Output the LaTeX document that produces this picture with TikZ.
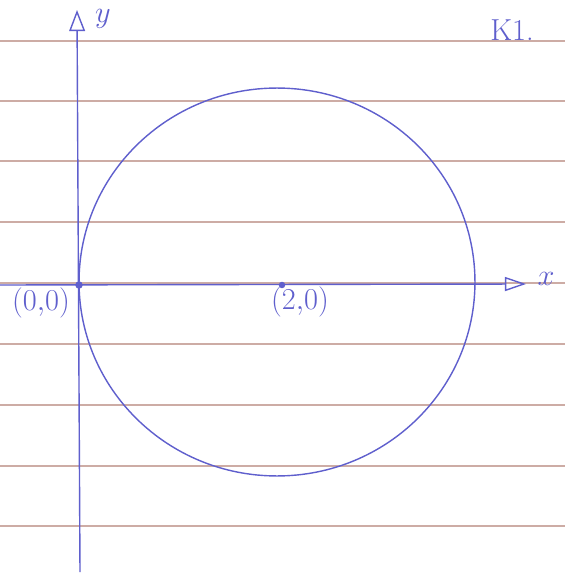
\documentclass[tikz,border=0pt]{standalone}
\usepackage{amsmath,amssymb}
\usepackage{tikz}
\usetikzlibrary{arrows.meta}

\definecolor{pen}{RGB}{95,95,205}
\definecolor{ruling}{RGB}{205,172,165}

\tikzset{
  pen/.style={draw=pen, line width=0.8pt},
  ruled/.style={draw=ruling, line width=0.8pt},
  lbl/.style={text=pen, font=\LARGE, inner sep=1pt}
}

\begin{document}
\begin{tikzpicture}[x=0.02cm, y=-0.02cm]
    \useasboundingbox[fill=white] (0,0) rectangle (565,574);
    % Ruled lines of the page
    \foreach \r in {41,101,161,222,283,344,405,466,526}
        \draw[ruled] (0,\r) -- (565,\r);
    % Axes
    \coordinate (xstart) at (0,285);
    \coordinate (xend) at (526,284);
    \coordinate (ystart) at (80,572);
    \coordinate (yend) at (77,10);
    \draw[pen, -{Triangle[open,length=12pt,width=8pt]}] (xstart) -- (xend);
    \draw[pen, -{Triangle[open,length=12pt,width=9pt]}] (ystart) -- (yend);
    \node[lbl] (xlab) at (546,279) {$x$};
    \node[lbl] (ylab) at (103,19) {$y$};
    % Circle with centre (2,0) through the origin
    \coordinate (mid) at (277,282);
    \node[circle, fill=pen, inner sep=1.5pt] (origin) at (79,285) {};
    \node[circle, fill=pen, inner sep=1.3pt] (centre) at (282,285) {};
    \draw[pen] (mid) ellipse [x radius=3.96cm, y radius=3.88cm];
    \node[lbl] (olab) at (41,303) {$(0{,}0)$};
    \node[lbl] (clab) at (300,302) {$(2{,}0)$};
    % Exercise number
    \node[lbl] (num) at (512,30) {K1.};
\end{tikzpicture}
\end{document}
